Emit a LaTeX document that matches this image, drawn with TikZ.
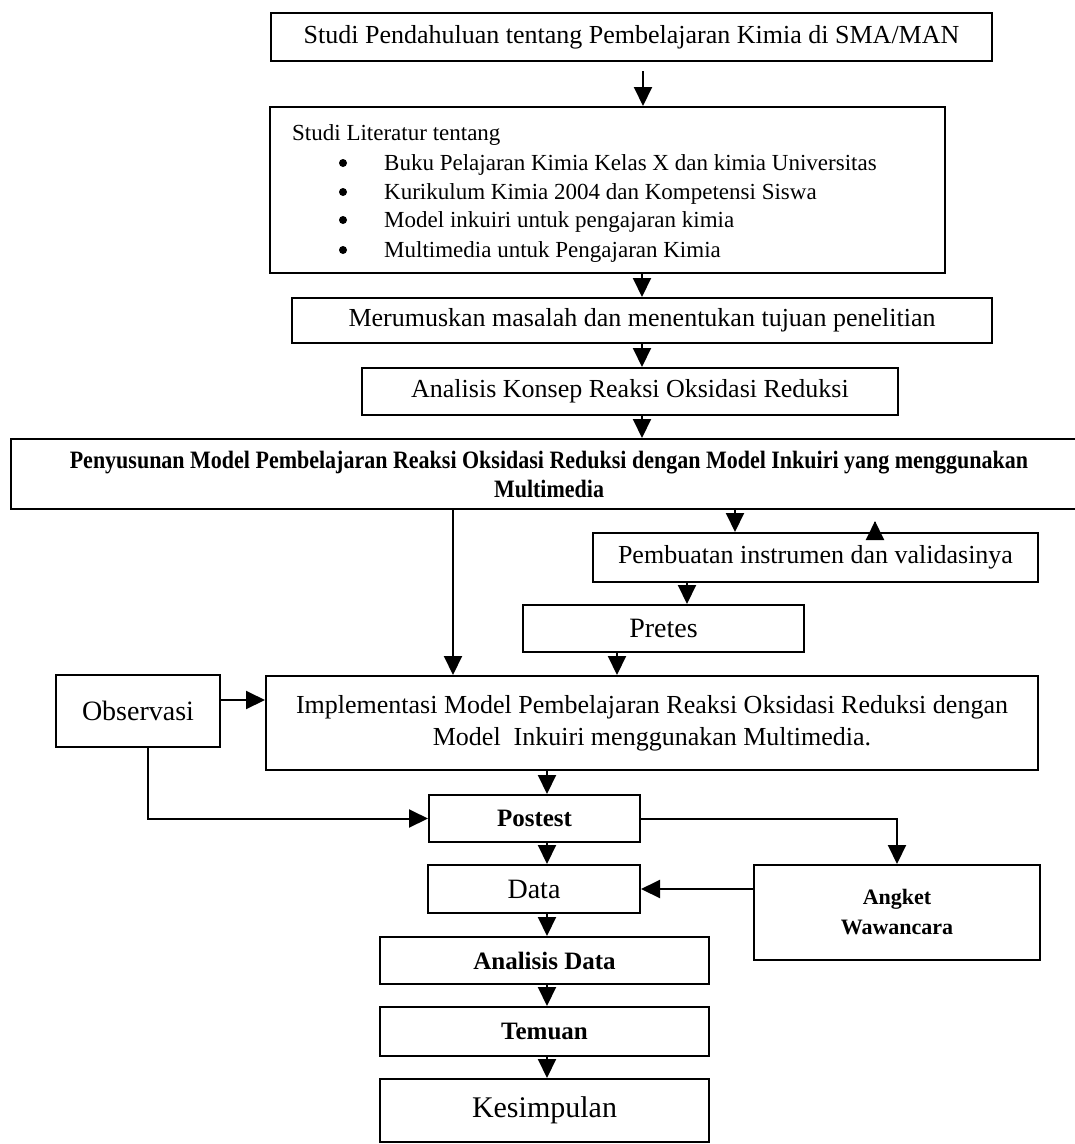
\documentclass[tikz,border=0pt]{standalone}
\usepackage{fontspec}
\setmainfont{Liberation Serif}
\newfontfamily\condfont[FakeStretch=0.88]{Liberation Serif}
\usetikzlibrary{arrows.meta}
\begin{document}
\begin{tikzpicture}[x=1pt,y=-1pt,
  box/.style={draw, line width=2pt, inner sep=0pt, align=center},
  lit/.style={inner sep=0pt, font=\fontsize{23}{29}\selectfont},
  bul/.style={fill=black},
  arr/.style={line width=2pt, -{Triangle[length=19pt,width=18pt]}},
  fA/.style={font=\fontsize{26}{32}\selectfont},
  fB/.style={font=\fontsize{28}{32}\selectfont},
  fC/.style={font=\bfseries\fontsize{25}{30}\selectfont}
]
\path[use as bounding box, fill=white] (0,0) rectangle (1075,1144);

% boxes
\node[box, fA, minimum width=721pt, minimum height=48pt] (b1) at (631.5,37)
  {Studi Pendahuluan tentang Pembelajaran Kimia di SMA/MAN};
\node[box, minimum width=675pt, minimum height=166pt] (b2) at (607.5,190) {};
\node[lit, anchor=base west] (l0) at (292,140) {Studi Literatur tentang};
\node[lit, anchor=base west] (l1) at (384,170) {Buku Pelajaran Kimia Kelas X dan kimia Universitas};
\node[lit, anchor=base west] (l2) at (384,199) {Kurikulum Kimia 2004 dan Kompetensi Siswa};
\node[lit, anchor=base west] (l3) at (384,227) {Model inkuiri untuk pengajaran kimia};
\node[lit, anchor=base west] (l4) at (384,257) {Multimedia untuk Pengajaran Kimia};
\fill[bul] (343,163) circle (4pt);
\fill[bul] (343,192) circle (4pt);
\fill[bul] (343,220) circle (4pt);
\fill[bul] (343,250) circle (4pt);

\node[box, fA, minimum width=700pt, minimum height=45pt] (b3) at (642,320.5)
  {Merumuskan masalah dan menentukan tujuan penelitian};
\node[box, fA, minimum width=536pt, minimum height=47pt] (b4) at (630,391.5)
  {Analisis Konsep Reaksi Oksidasi Reduksi};
\node[box, font=\condfont\bfseries\fontsize{25}{29}\selectfont, minimum width=1076pt, minimum height=70pt] (b5) at (549,474)
  {Penyusunan Model Pembelajaran Reaksi Oksidasi Reduksi dengan Model Inkuiri yang menggunakan\\Multimedia};
\node[box, fA, minimum width=445pt, minimum height=49pt] (pemb) at (815.5,557.5)
  {Pembuatan instrumen dan validasinya};
\node[box, fB, minimum width=281pt, minimum height=47pt] (pretes) at (663.5,628.5) {Pretes};
\node[box, fB, minimum width=164pt, minimum height=72pt] (obs) at (138,711) {Observasi};
\node[box, fA, minimum width=772pt, minimum height=94pt] (impl) at (652,723)
  {Implementasi Model Pembelajaran Reaksi Oksidasi Reduksi dengan\\Model\ \ Inkuiri menggunakan Multimedia.};
\node[box, fC, minimum width=211pt, minimum height=47pt] (post) at (534.5,818.5) {Postest};
\node[box, fB, minimum width=212pt, minimum height=48pt] (data) at (534,889) {Data};
\node[box, font=\bfseries\fontsize{22}{30}\selectfont, minimum width=286pt, minimum height=95pt] (angket) at (897,912.5)
  {Angket\\Wawancara};
\node[box, fC, minimum width=329pt, minimum height=47pt] (anal) at (544.5,960.5) {Analisis Data};
\node[box, fC, minimum width=329pt, minimum height=49pt] (temuan) at (544.5,1031.5) {Temuan};
\node[box, font=\fontsize{30}{34}\selectfont, minimum width=329pt, minimum height=63pt] (kes) at (544.5,1110.5) {Kesimpulan};

% helper coordinates
\coordinate (xa) at (643,0);
\coordinate (xb) at (642,0);
\coordinate (xl) at (453,0);
\coordinate (xp) at (735,0);
\coordinate (xu) at (875,0);
\coordinate (xq) at (687,0);
\coordinate (xr) at (617,0);
\coordinate (yo) at (0,700);
\coordinate (xo) at (148,0);
\coordinate (xm) at (547,0);

% connectors
\draw[arr, shorten <=9pt] (b1.south -| xa) -- (b2.north -| xa);
\draw[arr] (b2.south -| xb) -- (b3.north -| xb);
\draw[arr] (b3.south -| xb) -- (b4.north -| xb);
\draw[arr] (b4.south -| xb) -- (b5.north -| xb);
\draw[arr] (b5.south -| xl) -- (impl.north -| xl);
\draw[arr] (b5.south -| xp) -- (pemb.north -| xp);
\draw[arr, shorten >=11pt, shorten <=-10pt] (pemb.north -| xu) -- (b5.south -| xu);
\draw[arr] (pemb.south -| xq) -- (pretes.north -| xq);
\draw[arr] (pretes.south -| xr) -- (impl.north -| xr);
\draw[arr] (obs.east |- yo) -- (impl.west |- yo);
\draw[arr] (obs.south -| xo) |- (post.west);
\draw[arr] (impl.south -| xm) -- (post.north -| xm);
\draw[arr] (post.east) -| (angket.north);
\draw[arr] (post.south -| xm) -- (data.north -| xm);
\draw[arr] (angket.west |- data.east) -- (data.east);
\draw[arr] (data.south -| xm) -- (anal.north -| xm);
\draw[arr] (anal.south -| xm) -- (temuan.north -| xm);
\draw[arr] (temuan.south -| xm) -- (kes.north -| xm);
\end{tikzpicture}
\end{document}
